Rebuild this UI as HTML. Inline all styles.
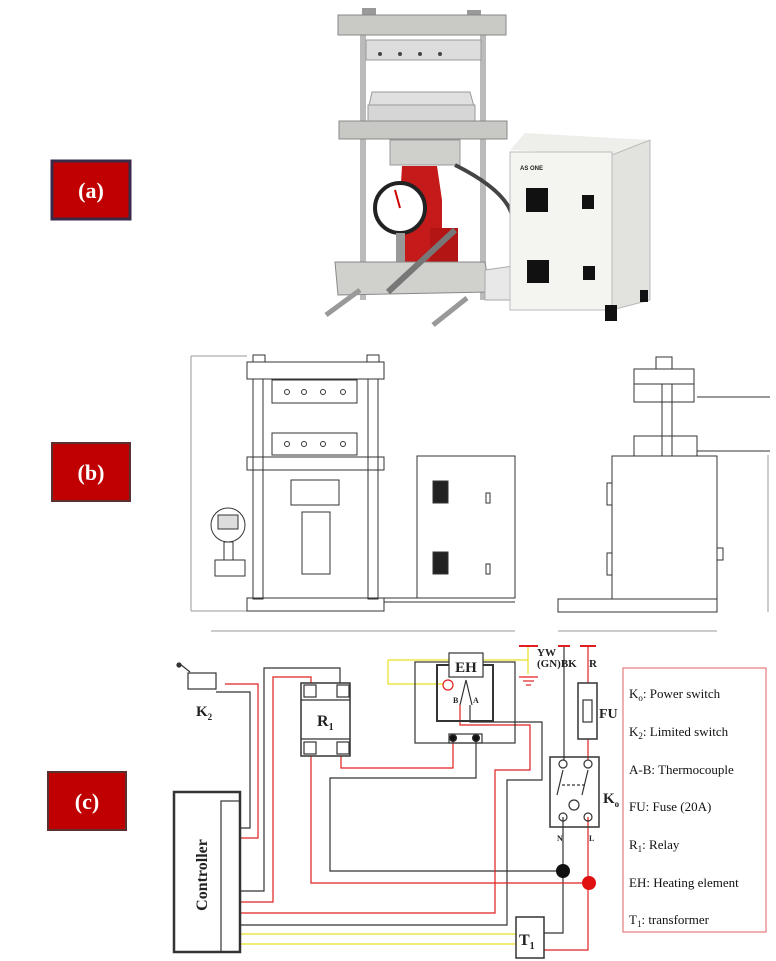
<!DOCTYPE html>
<html><head><meta charset="utf-8"><style>
html,body{margin:0;padding:0;background:#fff;}
svg{display:block;}
</style></head><body>
<svg width="776" height="961" viewBox="0 0 776 961" xmlns="http://www.w3.org/2000/svg" font-family="Liberation Serif, serif">
<!-- Labels -->
<rect x="52" y="161" width="78" height="58" fill="#c00000" stroke="#3a2a4a" stroke-width="3"/>
<text x="91" y="198" fill="#fff" font-size="22" font-weight="bold" text-anchor="middle">(a)</text>
<rect x="52" y="443" width="78" height="58" fill="#c00000" stroke="#5a3030" stroke-width="2"/>
<text x="91" y="480" fill="#fff" font-size="22" font-weight="bold" text-anchor="middle">(b)</text>
<rect x="48" y="772" width="78" height="58" fill="#c00000" stroke="#5a3030" stroke-width="2"/>
<text x="87" y="809" fill="#fff" font-size="22" font-weight="bold" text-anchor="middle">(c)</text>

<!-- (a) photo -->
<g>
<rect x="360" y="35" width="6" height="265" fill="#bbb"/>
<rect x="480" y="35" width="6" height="265" fill="#bbb"/>
<rect x="362" y="8" width="14" height="10" fill="#999"/><rect x="467" y="10" width="14" height="10" fill="#999"/>
<rect x="338" y="15" width="168" height="20" fill="#c9c9c6" stroke="#888"/>
<rect x="366" y="40" width="115" height="20" fill="#ddd" stroke="#999"/>
<circle cx="380" cy="54" r="2" fill="#444"/><circle cx="400" cy="54" r="2" fill="#444"/><circle cx="420" cy="54" r="2" fill="#444"/><circle cx="440" cy="54" r="2" fill="#444"/>
<polygon points="372,92 470,92 475,110 368,110" fill="#e0e0e0" stroke="#999"/>
<rect x="368" y="105" width="107" height="17" fill="#d6d6d6" stroke="#999"/>
<rect x="339" y="121" width="168" height="18" fill="#c8c8c4" stroke="#888"/>
<rect x="390" y="140" width="70" height="25" fill="#cfcfcc" stroke="#999"/>
<path d="M402 166 L437 166 L442 200 L442 270 L400 270 L400 200Z" fill="#c41a1a"/>
<rect x="430" y="228" width="28" height="52" fill="#b31515"/>
<circle cx="400" cy="208" r="25" fill="#fff" stroke="#222" stroke-width="4"/>
<line x1="400" y1="208" x2="395" y2="190" stroke="#c00" stroke-width="2"/>
<rect x="396" y="233" width="9" height="30" fill="#999"/>
<rect x="385" y="262" width="75" height="22" fill="#c21818"/>
<polygon points="335,262 485,262 490,292 338,295" fill="#d0d0cc" stroke="#888"/>
<line x1="388" y1="292" x2="455" y2="230" stroke="#777" stroke-width="6"/>
<line x1="326" y1="315" x2="360" y2="290" stroke="#999" stroke-width="5"/>
<line x1="433" y1="325" x2="467" y2="298" stroke="#999" stroke-width="5"/>
<polygon points="485,270 520,265 520,300 485,300" fill="#e8e8e8" stroke="#aaa"/>
<path d="M455 165 Q505 190 512 215" stroke="#444" stroke-width="4" fill="none"/>
<polygon points="510,150 525,133 650,140 612,155" fill="#eeeeea"/>
<rect x="510" y="152" width="102" height="158" fill="#f4f4f0" stroke="#bbb"/>
<polygon points="612,155 650,140 650,300 612,310" fill="#e2e2de" stroke="#bbb"/>
<text x="520" y="170" font-size="6" font-family="Liberation Sans,sans-serif" font-weight="bold" fill="#222">AS ONE</text>
<rect x="526" y="188" width="22" height="24" fill="#111"/><rect x="582" y="195" width="12" height="14" fill="#111"/>
<rect x="527" y="260" width="22" height="23" fill="#111"/><rect x="583" y="266" width="12" height="14" fill="#111"/>
<rect x="605" y="305" width="12" height="16" fill="#111"/><rect x="640" y="290" width="8" height="12" fill="#111"/>
</g>

<!-- (b) drawing -->
<g stroke="#333" stroke-width="1" fill="none">
<line x1="191" y1="356" x2="191" y2="611" stroke="#999"/><line x1="191" y1="356" x2="247" y2="356" stroke="#999"/><line x1="191" y1="611" x2="247" y2="611" stroke="#999"/>
<rect x="247" y="362" width="137" height="17"/>
<rect x="253" y="355" width="12" height="7"/><rect x="367" y="355" width="12" height="7"/>
<rect x="253" y="379" width="10" height="220"/><rect x="368" y="379" width="10" height="220"/>
<rect x="272" y="380" width="85" height="23"/>
<rect x="272" y="433" width="85" height="22"/>
<g fill="#fff"><circle cx="287" cy="392" r="2.5"/><circle cx="304" cy="392" r="2.5"/><circle cx="323" cy="392" r="2.5"/><circle cx="343" cy="392" r="2.5"/>
<circle cx="287" cy="444" r="2.5"/><circle cx="304" cy="444" r="2.5"/><circle cx="323" cy="444" r="2.5"/><circle cx="343" cy="444" r="2.5"/></g>
<rect x="247" y="457" width="137" height="13"/>
<rect x="291" y="480" width="48" height="25"/>
<rect x="302" y="512" width="28" height="62"/>
<rect x="247" y="598" width="137" height="13"/>
<line x1="384" y1="598" x2="515" y2="598"/><line x1="384" y1="602" x2="515" y2="602"/>
<circle cx="228" cy="525" r="17"/><rect x="218" y="515" width="20" height="14" fill="#ddd"/>
<rect x="224" y="542" width="9" height="18"/><rect x="215" y="560" width="30" height="16"/>
<rect x="417" y="456" width="98" height="142"/>
<rect x="433" y="481" width="15" height="22" fill="#222"/><rect x="433" y="552" width="15" height="22" fill="#222"/>
<rect x="486" y="493" width="4" height="10"/><rect x="486" y="564" width="4" height="10"/>
<line x1="211" y1="631" x2="515" y2="631" stroke="#999"/>
<rect x="634" y="369" width="60" height="15"/><rect x="656" y="357" width="16" height="12"/>
<rect x="634" y="384" width="60" height="18"/>
<rect x="662" y="384" width="10" height="72"/>
<rect x="634" y="436" width="63" height="20"/>
<line x1="697" y1="397" x2="770" y2="397"/><line x1="697" y1="451" x2="770" y2="451"/>
<rect x="612" y="456" width="105" height="143"/>
<rect x="607" y="483" width="5" height="22"/><rect x="607" y="553" width="5" height="22"/>
<rect x="717" y="548" width="6" height="12"/>
<rect x="558" y="599" width="159" height="13"/>
<line x1="768" y1="455" x2="768" y2="612" stroke="#999"/>
<line x1="558" y1="631" x2="717" y2="631" stroke="#999"/>
</g>

<!-- (c) circuit -->
<g fill="none" stroke-width="1.2">
<!-- yellow -->
<g stroke="#e8e020">
<polyline points="388,660 449,660"/><polyline points="388,660 388,684 444,684"/>
<polyline points="483,660 528,660"/><line x1="528" y1="646" x2="528" y2="674"/>
<line x1="240" y1="934" x2="516" y2="934"/><line x1="240" y1="944" x2="516" y2="944"/>
</g>
<!-- black -->
<g stroke="#333">
<polyline points="216,692 250,692 250,828 240,828"/>
<polyline points="240,891 264,891 264,668 340,668 340,683"/>
<polyline points="476,740 476,778 330,778 330,871 563,871"/>
<polyline points="470,705 470,722 542,722 542,780 507,780 507,925 240,925"/>
<line x1="564" y1="646" x2="564" y2="760"/>
<polyline points="563,817 563,933 544,933"/>
</g>
<!-- red -->
<g stroke="#e02020">
<polyline points="225,684 258,684 258,838 240,838"/>
<polyline points="240,902 273,902 273,677 311,677 311,683"/>
<polyline points="311,756 311,883 589,883"/>
<polyline points="341,756 341,768 453,768 453,740"/>
<polyline points="460,705 460,725 530,725 530,770 495,770 495,913 240,913"/>
<line x1="588" y1="646" x2="588" y2="683"/><line x1="588" y1="739" x2="588" y2="760"/>
<polyline points="588,817 588,950 544,950"/>
<line x1="519" y1="646" x2="538" y2="646" stroke-width="2"/><line x1="580" y1="646" x2="596" y2="646" stroke-width="2"/>
<line x1="558" y1="646" x2="570" y2="646" stroke-width="2"/>
<line x1="519" y1="677" x2="538" y2="677"/><line x1="523" y1="681" x2="534" y2="681"/><line x1="526" y1="685" x2="531" y2="685"/>
<circle cx="448" cy="685" r="5"/>
</g>
<!-- components -->
<g stroke="#333">
<rect x="174" y="792" width="66" height="160" stroke-width="2.5"/>
<rect x="221" y="801" width="19" height="151"/>
<rect x="188" y="673" width="28" height="16"/><line x1="190" y1="672" x2="180" y2="664"/><circle cx="179" cy="665" r="2" fill="#333"/>
<rect x="301" y="683" width="49" height="73" stroke-width="1.5"/>
<line x1="301" y1="700" x2="350" y2="700"/><line x1="301" y1="739" x2="350" y2="739"/>
<rect x="304" y="685" width="12" height="12"/><rect x="337" y="685" width="12" height="12"/>
<rect x="304" y="742" width="12" height="12"/><rect x="337" y="742" width="12" height="12"/>
<rect x="415" y="662" width="100" height="81"/>
<rect x="437" y="665" width="56" height="56" stroke-width="2"/>
<rect x="449" y="653" width="34" height="24" fill="#fff"/>
<polyline points="460,705 466,680 472,705"/>
<rect x="449" y="734" width="33" height="9"/>
<circle cx="453" cy="738" r="3.5" fill="#111"/><circle cx="476" cy="738" r="3.5" fill="#111"/>
<rect x="578" y="683" width="19" height="56" stroke-width="1.5"/><rect x="583" y="700" width="9" height="22"/>
<rect x="550" y="757" width="49" height="70" stroke-width="1.5"/>
<circle cx="563" cy="764" r="4"/><circle cx="588" cy="764" r="4"/><circle cx="563" cy="817" r="4"/><circle cx="588" cy="817" r="4"/>
<line x1="563" y1="770" x2="557" y2="795"/><line x1="588" y1="770" x2="582" y2="795"/><line x1="562" y1="785" x2="585" y2="785" stroke-dasharray="3,2"/>
<circle cx="574" cy="805" r="5"/>
<rect x="516" y="917" width="28" height="41" stroke-width="1.5"/>
</g>
<circle cx="563" cy="871" r="7" fill="#111"/>
<circle cx="589" cy="883" r="7" fill="#e01010"/>
</g>
<g font-weight="bold" fill="#222">
<text x="466" y="672" font-size="15" text-anchor="middle">EH</text>
<text x="317" y="726" font-size="16">R<tspan font-size="10" dy="4">1</tspan></text>
<text x="196" y="716" font-size="15">K<tspan font-size="9" dy="4">2</tspan></text>
<text x="599" y="718" font-size="14">FU</text>
<text x="603" y="803" font-size="15">K<tspan font-size="9" dy="4">o</tspan></text>
<text x="519" y="945" font-size="16">T<tspan font-size="10" dy="4">1</tspan></text>
<text x="537" y="656" font-size="11">YW</text>
<text x="537" y="667" font-size="11">(GN)BK</text>
<text x="589" y="667" font-size="11">R</text>
<text x="453" y="703" font-size="8">B</text><text x="473" y="703" font-size="8">A</text>
<text x="557" y="841" font-size="8">N</text><text x="589" y="841" font-size="8">L</text>
<text transform="translate(207,875) rotate(-90)" font-size="16" text-anchor="middle">Controller</text>
</g>
<!-- legend -->
<rect x="623" y="668" width="143" height="264" fill="none" stroke="#e06060" stroke-width="1"/>
<g font-size="13" fill="#111">
<text x="629" y="698">K<tspan font-size="9" dy="3">o</tspan><tspan dy="-3">: Power switch</tspan></text>
<text x="629" y="736">K<tspan font-size="9" dy="3">2</tspan><tspan dy="-3">: Limited switch</tspan></text>
<text x="629" y="774">A-B: Thermocouple</text>
<text x="629" y="811">FU: Fuse (20A)</text>
<text x="629" y="849">R<tspan font-size="9" dy="3">1</tspan><tspan dy="-3">: Relay</tspan></text>
<text x="629" y="887">EH: Heating element</text>
<text x="629" y="924">T<tspan font-size="9" dy="3">1</tspan><tspan dy="-3">: transformer</tspan></text>
</g>
</svg>
</body></html>
